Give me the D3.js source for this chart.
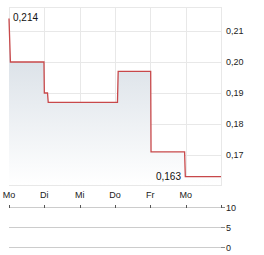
<!DOCTYPE html>
<html>
<head>
<meta charset="utf-8">
<script src="https://cdn.jsdelivr.net/npm/d3@7/dist/d3.min.js"></script>
<style>
html,body{margin:0;padding:0;background:#fff;}
svg{display:block;font-family:"Liberation Sans",Arial,sans-serif;}
</style>
</head>
<body>
<script>
// Data
const dayLabels = ["Mo","Di","Mi","Do","Fr","Mo"];
const dayPositions = [0,1,2,3,4,5];
const priceX = [0, 0.04, 0.99, 1.0, 1.09, 1.11, 3.07, 3.09, 4.01, 4.02, 4.97, 4.99, 6.0];
const priceY = [0.214, 0.200, 0.200, 0.190, 0.190, 0.187, 0.187, 0.197, 0.197, 0.171, 0.171, 0.163, 0.163];
const yTicks = [0.17, 0.18, 0.19, 0.20, 0.21];
const yTickLabels = ["0,17","0,18","0,19","0,20","0,21"];
const volTicks = [0, 5, 10];
const volTickLabels = ["0","5","10"];
const annotations = [{label:"0,214", i:0}, {label:"0,163", i:11}];

const W = 264, H = 255;
const svg = d3.select("body").append("svg").attr("width", W).attr("height", H);

const x = d3.scaleLinear().domain([0, 6]).range([9, 221]);
const y = d3.scaleLinear().domain([0.16032, 0.21774]).range([185, 7]);
const yv = d3.scaleLinear().domain([0, 10]).range([247.3, 207.3]);

const defs = svg.append("defs");
const grad = defs.append("linearGradient").attr("id","g").attr("x1",0).attr("y1",0).attr("x2",0).attr("y2",1)
  .attr("gradientUnits","userSpaceOnUse").attr("x1",0).attr("x2",0).attr("y1",7).attr("y2",185);
grad.append("stop").attr("offset","0%").attr("stop-color","#cdd6df");
grad.append("stop").attr("offset","100%").attr("stop-color","#ffffff");

// grid
const grid = svg.append("g").attr("stroke","#e8e8e8").attr("stroke-width",1).attr("shape-rendering","crispEdges");
yTicks.forEach(t => grid.append("line").attr("x1",9).attr("x2",221).attr("y1",Math.round(y(t))+0.5).attr("y2",Math.round(y(t))+0.5));
grid.append("line").attr("x1",9).attr("x2",221).attr("y1",7.5).attr("y2",7.5);
grid.append("line").attr("x1",9).attr("x2",221).attr("y1",185.5).attr("y2",185.5);
dayPositions.concat([6]).forEach(d => grid.append("line").attr("x1",Math.round(x(d))+0.5).attr("x2",Math.round(x(d))+0.5).attr("y1",7).attr("y2",186));

const pts = priceX.map((v,i)=>({x:v, y:priceY[i]}));
const area = d3.area().x(d=>x(d.x)).y0(185).y1(d=>y(d.y));
svg.append("path").datum(pts).attr("d",area).attr("fill","url(#g)");
const line = d3.line().x(d=>x(d.x)).y(d=>y(d.y));
svg.append("path").datum(pts).attr("d",line).attr("fill","none").attr("stroke","#c8484a").attr("stroke-width",1.3);

// y labels
svg.append("g").selectAll("text").data(yTicks).join("text")
  .attr("x",226).attr("y",d=>y(d)+3.5).attr("font-size","9px").attr("fill","#222")
  .text((d,i)=>yTickLabels[i]);

// x labels
svg.append("g").selectAll("text").data(dayPositions).join("text")
  .attr("x",d=>x(d)).attr("y",198).attr("text-anchor","middle").attr("font-size","9px").attr("fill","#222")
  .text((d,i)=>dayLabels[i]);

// annotations
svg.append("text").attr("x",13).attr("y",21).attr("font-size","10px").attr("fill","#111").text(annotations[0].label);
svg.append("text").attr("x",181).attr("y",180).attr("text-anchor","end").attr("font-size","10px").attr("fill","#111").text(annotations[1].label);

// volume panel
const vg = svg.append("g").attr("shape-rendering","crispEdges");
volTicks.forEach(t => {
  const yy = Math.round(yv(t))+0.5;
  vg.append("line").attr("x1",9).attr("x2",221).attr("y1",yy).attr("y2",yy).attr("stroke","#cccccc");
  vg.append("line").attr("x1",221).attr("x2",225).attr("y1",yy).attr("y2",yy).attr("stroke","#888");
});
const topV = Math.round(yv(10));
dayPositions.concat([6]).forEach(d => vg.append("line").attr("x1",Math.round(x(d))+0.5).attr("x2",Math.round(x(d))+0.5)
  .attr("y1",topV-2).attr("y2",topV+1).attr("stroke","#555"));
svg.append("g").selectAll("text").data(volTicks).join("text")
  .attr("x",226).attr("y",d=>yv(d)+3.5).attr("font-size","9px").attr("fill","#222")
  .text((d,i)=>volTickLabels[i]);
</script>
</body>
</html>
